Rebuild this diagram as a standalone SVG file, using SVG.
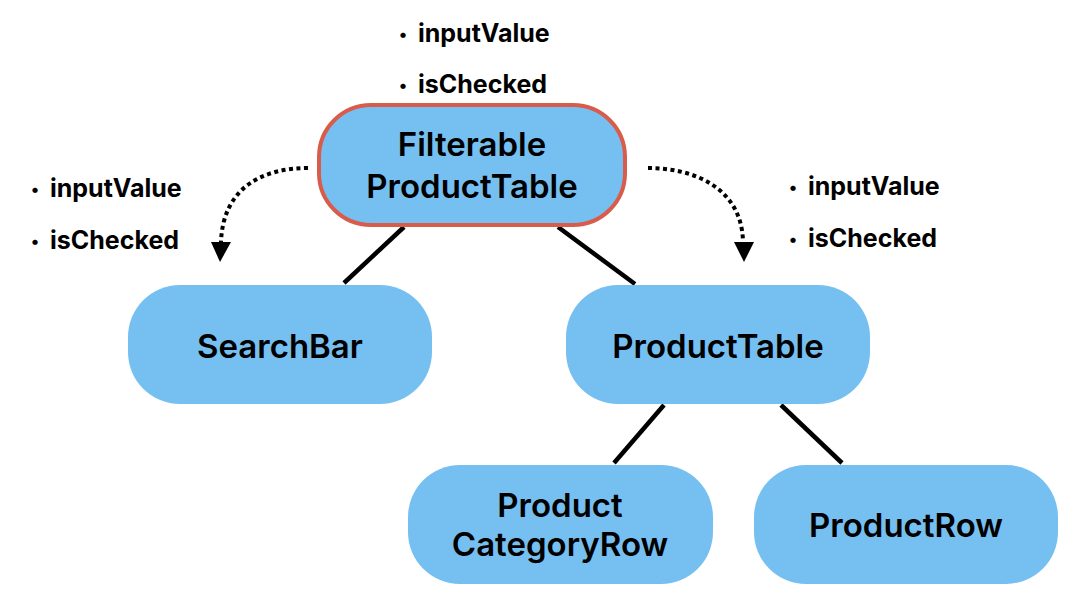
<svg xmlns="http://www.w3.org/2000/svg" width="1086" height="606" viewBox="0 0 1086 606">
<style>
.node{fill:#76BFF1;}
.root{stroke:#D95C4A;stroke-width:4;}
.nt{font-family:Inter,"Liberation Sans",sans-serif;font-weight:600;font-size:33px;fill:#000;text-anchor:middle;}
.lb{font-family:Inter,"Liberation Sans",sans-serif;font-weight:700;font-size:25px;fill:#000;}
.bu{font-family:Inter,"Liberation Sans",sans-serif;font-weight:700;font-size:17px;fill:#000;text-anchor:middle;}
.edge{stroke:#000;stroke-width:4.5;fill:none;}
.dot{stroke:#000;stroke-width:4;fill:none;stroke-dasharray:4 3.5;}
</style>
<g id="connectors">
<line class="edge" x1="404" y1="227" x2="344" y2="283"/>
<line class="edge" x1="558" y1="227" x2="635" y2="284"/>
<line class="edge" x1="664" y1="405" x2="614" y2="463"/>
<line class="edge" x1="781" y1="405" x2="842" y2="463"/>
<path class="dot" d="M308 168 C262 168 223 188 221 242"/>
<polygon points="211,242 231,242 220,262" fill="#000"/>
<path class="dot" d="M648 168 C694 168 742 188 743 242"/>
<polygon points="734,242 754,242 744,262" fill="#000"/>
</g>
<g id="labels">
<text class="bu" x="403" y="40">•</text><text class="lb" x="418" y="42">inputValue</text>
<text class="bu" x="403" y="91">•</text><text class="lb" x="418" y="93">isChecked</text>
<text class="bu" x="35" y="195">•</text><text class="lb" x="50" y="197">inputValue</text>
<text class="bu" x="35" y="247">•</text><text class="lb" x="50" y="249">isChecked</text>
<text class="bu" x="793" y="193">•</text><text class="lb" x="808" y="195">inputValue</text>
<text class="bu" x="793" y="245">•</text><text class="lb" x="808" y="247">isChecked</text>
</g>
<g id="FilterableProductTable">
<rect class="node root" x="319" y="105" width="306" height="120" rx="52"/>
<text class="nt" x="472" y="156">Filterable</text>
<text class="nt" x="472" y="198">ProductTable</text>
</g>
<g id="SearchBar">
<rect class="node" x="128" y="285" width="304" height="119" rx="52"/>
<text class="nt" x="280" y="358">SearchBar</text>
</g>
<g id="ProductTable">
<rect class="node" x="566" y="285" width="304" height="119" rx="52"/>
<text class="nt" x="718" y="358">ProductTable</text>
</g>
<g id="ProductCategoryRow">
<rect class="node" x="408" y="465" width="305" height="119" rx="52"/>
<text class="nt" x="560" y="517">Product</text>
<text class="nt" x="560" y="556">CategoryRow</text>
</g>
<g id="ProductRow">
<rect class="node" x="754" y="465" width="304" height="119" rx="52"/>
<text class="nt" x="906" y="537">ProductRow</text>
</g>
</svg>
